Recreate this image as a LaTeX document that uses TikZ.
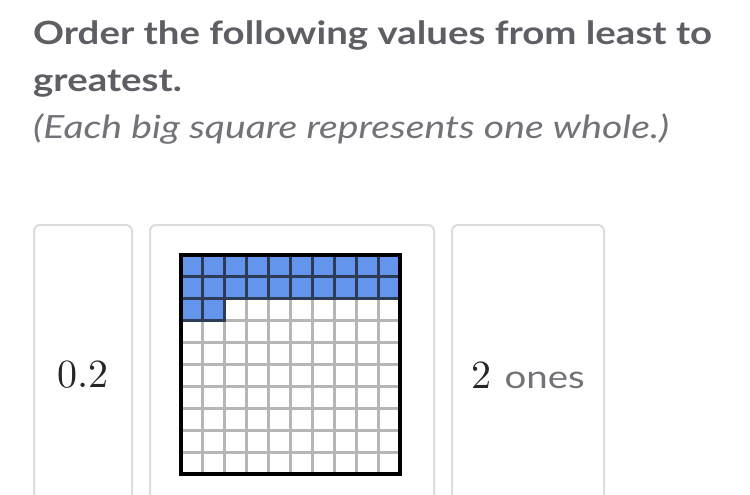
\documentclass[tikz,border=0pt]{standalone}
\usepackage{fontspec}
\newfontfamily\latofont{Lato}[FakeStretch=1.2]
\newfontfamily\latonote{Lato}[FakeStretch=1.225]
\newfontfamily\numfont{lmroman10-regular}[Extension=.otf]
\usetikzlibrary{positioning}
\definecolor{titlegray}{HTML}{5E5F64}
\definecolor{notegray}{HTML}{727378}
\definecolor{cardline}{HTML}{DCDCDC}
\definecolor{hundblue}{HTML}{6495ED}
\definecolor{blueline}{HTML}{2E3B56}
\definecolor{gridgray}{HTML}{B6B6B6}

\begin{document}
\begin{tikzpicture}[
    x=1pt, y=-1pt,
    card/.style={draw=cardline, line width=2pt, rounded corners=6pt, minimum height=300pt, inner sep=0pt, anchor=north west},
    heading/.style={anchor=base west, inner sep=0pt, text=titlegray, font=\latofont\fontsize{32}{38}\selectfont\bfseries},
    note/.style={anchor=base west, inner sep=0pt, text=notegray, font=\latonote\fontsize{32}{38}\selectfont\itshape},
    value/.style={inner sep=0pt, text=black!85, font=\numfont\fontsize{40}{46}\selectfont},
    gridline/.style={draw=gridgray, line width=3pt},
    darkline/.style={draw=blueline, line width=3pt}
]
\useasboundingbox (0,0) rectangle (750,495);
\clip (0,0) rectangle (750,495);

% question text
\node[heading] (q1) at (33,45) {Order the following values from least to};
\node[heading] (q2) at (33,92) {greatest.};
\node[note] (q3) at (33,139) {(Each big square represents one whole.)};

% answer cards
\node[card, minimum width=98pt] (c1) at (33,224) {};
\node[card, minimum width=284pt] (c2) at (149,224) {};
\node[card, minimum width=152pt] (c3) at (451,224) {};

\node[value] (v1) at (c1.center) {0.2};
\node[value] (v3) at (c3.center) {2 {\latofont\fontsize{32}{38}\selectfont\color{notegray}ones}};

% hundreds grid, 22 cells shaded
\foreach \i in {1,...,9} {
  \draw[gridline] (181+21.9*\i,255) -- (181+21.9*\i,474);
  \draw[gridline] (181,255+21.9*\i) -- (400,255+21.9*\i);
}
\fill[hundblue] (181,255) rectangle (400,298.8);
\fill[hundblue] (181,298.8) rectangle (224.8,320.7);
\foreach \i in {1,...,9}
  \draw[darkline] (181+21.9*\i,255) -- (181+21.9*\i,298.8);
\draw[darkline] (181,276.9) -- (400,276.9);
\draw[darkline] (181,298.8) -- (400,298.8);
\draw[darkline] (202.9,298.8) -- (202.9,320.7);
\draw[darkline] (224.8,297.3) -- (224.8,322.2);
\draw[darkline] (181,320.7) -- (226.3,320.7);
\draw[line width=4pt] (181,255) rectangle (400,474);

\end{tikzpicture}
\end{document}
